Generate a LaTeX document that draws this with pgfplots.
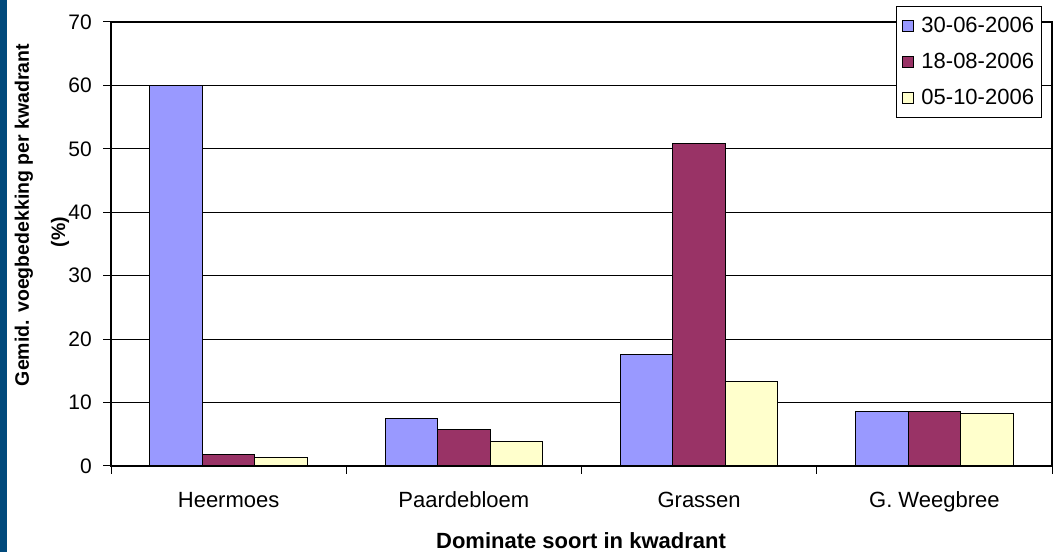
\documentclass[border=0pt]{standalone}
\usepackage{pgfplots}
\pgfplotsset{compat=1.18}
\usepackage{fontspec}
\setmainfont{Liberation Sans}
\definecolor{cblue}{HTML}{9999FF}
\definecolor{cred}{HTML}{993366}
\definecolor{cyel}{HTML}{FFFFCC}
\definecolor{strip}{HTML}{014A7C}
\begin{document}
\begin{tikzpicture}[x=1bp,y=1bp]
\fill[white] (0,0) rectangle (1054,552);
\useasboundingbox (0,0) rectangle (1054,552);
\fill[strip] (0,0) rectangle (7,552);
\begin{axis}[
  at={(111bp,86bp)}, anchor=south west,
  scale only axis, width=941bp, height=444bp,
  xmin=-0.5, xmax=3.5, ymin=0, ymax=70,
  ytick={0,10,...,70},
  xtick={-0.5,0.5,1.5,2.5,3.5}, xticklabels={},
  extra x ticks={0,1,2,3},
  extra x tick labels={Heermoes,Paardebloem,Grassen,G. Weegbree},
  extra x tick style={major tick length=0pt, grid=none},
  xtick pos=bottom, ytick pos=left,
  tick align=outside, major tick length=8bp,
  ymajorgrids, grid style={black, line width=1bp},
  axis line style={black, line width=1.2bp},
  tick style={black, line width=1bp},
  /pgf/number format/assume math mode=true,
  ticklabel style={font=\fontsize{21bp}{25bp}\selectfont},
  yticklabel style={anchor=east, inner sep=0pt, xshift=-11bp},
  xticklabel style={anchor=base, inner sep=0pt, yshift=-42bp, font=\fontsize{22bp}{26bp}\selectfont},
  legend style={at={(0.98937,1.0360)}, anchor=north east, draw=black, line width=1bp,
    fill=white, font=\fontsize{22bp}{26bp}\selectfont, row sep=16bp,
    inner xsep=6bp, inner ysep=9.5bp, nodes={inner sep=1.5bp},
    /tikz/every odd column/.append style={column sep=6bp}},
  legend cell align=left,
  legend image code/.code={\draw[#1,draw=black,line width=0.8bp] (0bp,-5.5bp) rectangle (11bp,5.5bp);},
]
\addplot[ybar, bar width=52.5bp, bar shift=-52.5bp, fill=cblue, draw=black, line width=1bp]
  coordinates {(0,60) (1,7.5) (2,17.5) (3,8.6)};
\addplot[ybar, bar width=52.5bp, bar shift=0bp, fill=cred, draw=black, line width=1bp]
  coordinates {(0,1.8) (1,5.7) (2,50.9) (3,8.6)};
\addplot[ybar, bar width=52.5bp, bar shift=52.5bp, fill=cyel, draw=black, line width=1bp]
  coordinates {(0,1.3) (1,3.8) (2,13.3) (3,8.3)};
\legend{30-06-2006,18-08-2006,05-10-2006}
\end{axis}
\node[rotate=90, font=\bfseries\fontsize{19.5bp}{23bp}\selectfont] at (24,337) {Gemid. voegbedekking per kwadrant};
\node[rotate=90, font=\bfseries\fontsize{19.5bp}{23bp}\selectfont] at (60,320) {(\%)};
\node[font=\bfseries\fontsize{22bp}{26bp}\selectfont] at (581,11) {Dominate soort in kwadrant};
\end{tikzpicture}
\end{document}
